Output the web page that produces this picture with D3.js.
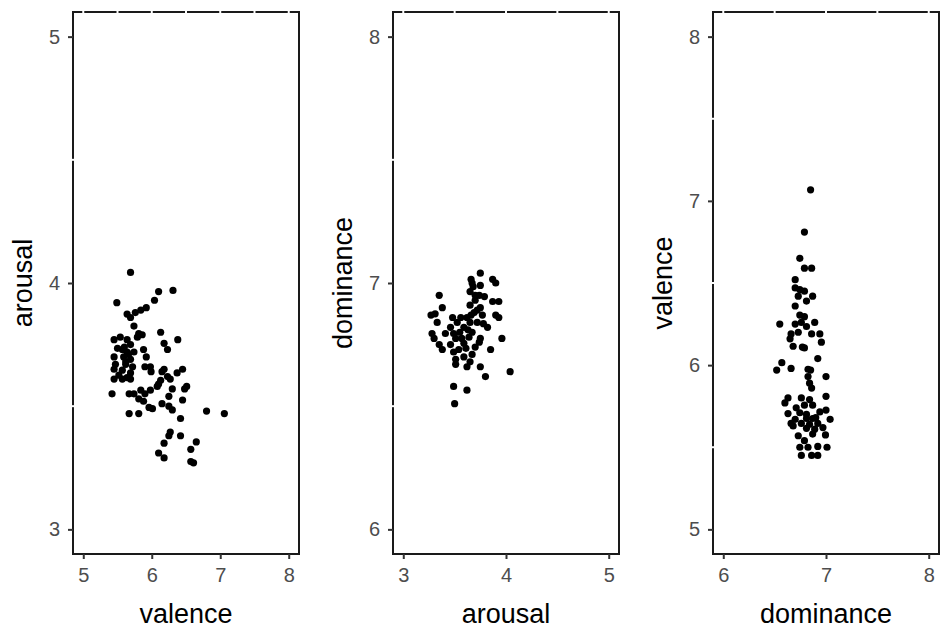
<!DOCTYPE html>
<html>
<head>
<meta charset="utf-8">
<script src="https://cdn.jsdelivr.net/npm/d3@7"></script>
<style>
  body { margin: 0; background: #fff; }
  svg { display: block; font-family: "Liberation Sans", Arial, sans-serif; }
</style>
</head>
<body>
<svg id="chart" width="940" height="629"></svg>
<script>
// panel 1: valence vs arousal
const p1Valence = [5.69,6.31,6.10,6.04,5.49,5.92,5.84,5.76,5.64,5.69,5.74,5.81,5.86,6.13,6.38,6.18,6.23,
  5.45,5.54,5.64,5.69,5.57,5.64,5.45,5.59,5.69,5.47,5.62,5.72,5.45,5.57,5.69,5.45,5.57,5.69,5.88,5.92,
  5.98,5.99,6.18,6.45,6.37,6.23,6.13,6.10,6.27,5.42,5.67,5.74,5.84,5.98,5.81,5.88,6.15,6.30,6.25,6.51,
  6.45,5.96,6.01,6.25,6.30,5.67,5.81,6.42,6.80,7.06,6.27,6.25,6.42,6.18,6.65,6.57,6.10,6.18,6.57,6.61,
  5.50,5.52,5.64,5.74,5.90,6.08,5.90,6.15,6.48,5.79,5.60,5.62,5.66];
const p1Arousal = [4.043,3.97,3.965,3.93,3.92,3.90,3.89,3.88,3.874,3.86,3.825,3.795,3.79,3.80,3.77,3.755,3.73,
  3.77,3.78,3.77,3.75,3.73,3.72,3.70,3.70,3.69,3.67,3.67,3.66,3.65,3.646,3.635,3.61,3.61,3.61,3.73,3.70,
  3.66,3.64,3.65,3.65,3.635,3.62,3.605,3.59,3.61,3.55,3.55,3.55,3.565,3.565,3.53,3.52,3.51,3.57,3.54,3.58,
  3.525,3.495,3.49,3.50,3.485,3.47,3.47,3.45,3.48,3.47,3.395,3.38,3.38,3.35,3.355,3.325,3.31,3.29,3.275,3.27,
  3.735,3.626,3.616,3.72,3.66,3.58,3.55,3.64,3.57,3.78,3.74,3.68,3.71];

// panel 2: arousal vs dominance
const p2Arousal = [3.75,3.66,3.67,3.87,3.90,3.75,3.35,3.65,3.74,3.70,3.87,3.93,3.38,3.65,3.75,3.69,3.27,
  3.31,3.48,3.56,3.62,3.77,3.90,3.93,3.33,3.525,3.65,3.78,3.46,3.59,3.82,3.28,3.49,3.67,3.30,3.51,3.64,
  3.75,3.96,3.35,3.46,3.59,3.74,3.38,3.49,3.70,3.85,3.51,3.59,3.67,3.51,3.62,3.75,3.61,3.65,3.80,4.04,
  3.49,3.62,3.50,3.72,3.72,3.55,3.41,3.68,3.79,3.57,3.54,3.70,3.66,3.63];
const p2Dominance = [7.04,7.015,7.0,7.015,7.0,6.99,6.95,6.965,6.95,6.93,6.925,6.925,6.90,6.91,6.90,6.88,6.87,
  6.875,6.86,6.86,6.86,6.87,6.87,6.86,6.84,6.84,6.84,6.835,6.82,6.82,6.82,6.795,6.795,6.80,6.775,6.775,6.78,
  6.775,6.775,6.75,6.75,6.755,6.76,6.73,6.72,6.74,6.73,6.69,6.70,6.71,6.67,6.66,6.66,6.735,6.68,6.62,6.64,
  6.58,6.565,6.51,6.89,6.84,6.80,6.795,6.985,6.945,6.775,6.73,6.95,6.87,6.81];

// panel 3: dominance vs valence
const p3Dominance = [6.85,6.79,6.745,6.79,6.86,6.70,6.70,6.745,6.79,6.73,6.87,6.81,6.70,6.745,6.79,6.76,6.89,
  6.55,6.70,6.81,6.66,6.73,6.86,6.94,6.65,6.955,6.68,6.77,6.79,6.92,6.57,6.52,6.66,6.825,6.85,7.00,6.825,
  6.84,6.86,6.63,6.60,6.76,7.00,6.71,6.79,6.87,6.63,6.745,6.94,7.00,6.70,6.81,6.87,7.04,6.76,6.84,6.92,
  6.68,6.81,6.89,6.97,6.995,6.87,6.79,6.745,6.825,6.92,7.01,6.76,6.86,6.92,6.81,6.90,6.73,6.66,6.84];
const p3Valence = [7.067,6.81,6.65,6.59,6.59,6.52,6.47,6.46,6.45,6.42,6.42,6.39,6.36,6.305,6.295,6.26,6.26,
  6.25,6.25,6.235,6.19,6.20,6.19,6.19,6.16,6.14,6.115,6.11,6.105,6.04,6.015,5.97,5.98,5.975,5.97,5.93,5.93,
  5.89,5.86,5.80,5.77,5.80,5.81,5.74,5.756,5.756,5.705,5.71,5.715,5.726,5.67,5.675,5.675,5.67,5.645,5.64,5.645,
  5.63,5.615,5.61,5.62,5.575,5.58,5.54,5.50,5.50,5.505,5.50,5.45,5.45,5.45,5.70,5.68,5.57,5.645,5.79];

const p1XTicks = [5, 6, 7, 8], p1YTicks = [3, 4, 5];
const p2XTicks = [3, 4, 5], p2YTicks = [6, 7, 8];
const p3XTicks = [6, 7, 8], p3YTicks = [5, 6, 7, 8];

const panels = [
  {x: p1Valence, y: p1Arousal, xName: "valence", yName: "arousal",
   xDom: [4.85, 8.15], yDom: [2.9, 5.1], xTicks: p1XTicks, yTicks: p1YTicks, left: 73, right: 299},
  {x: p2Arousal, y: p2Dominance, xName: "arousal", yName: "dominance",
   xDom: [2.9, 5.1], yDom: [5.9, 8.1], xTicks: p2XTicks, yTicks: p2YTicks, left: 393, right: 619},
  {x: p3Dominance, y: p3Valence, xName: "dominance", yName: "valence",
   xDom: [5.9, 8.1], yDom: [4.85, 8.15], xTicks: p3XTicks, yTicks: p3YTicks, left: 713, right: 939}
];

const TOP = 12, BOTTOM = 554;
const svg = d3.select("#chart");

panels.forEach(p => {
  const x = d3.scaleLinear().domain(p.xDom).range([p.left, p.right]);
  const y = d3.scaleLinear().domain(p.yDom).range([BOTTOM, TOP]);
  const g = svg.append("g");

  // panel border
  g.append("rect")
    .attr("x", p.left).attr("y", TOP)
    .attr("width", p.right - p.left).attr("height", BOTTOM - TOP)
    .attr("fill", "none").attr("stroke", "#1a1a1a").attr("stroke-width", 2);

  // white grid lines cut little gaps in the border
  const xGrid = d3.range(Math.ceil(p.xDom[0] * 2) / 2, p.xDom[1], 0.5);
  g.selectAll("line.vg").data(xGrid).join("line")
    .attr("x1", d => x(d)).attr("x2", d => x(d))
    .attr("y1", TOP - 2).attr("y2", TOP + 2)
    .attr("stroke", "#fff").attr("stroke-width", 2);
  const yMinor = p.yTicks.slice(1).map(d => d - 0.5);
  g.selectAll("line.hg").data(yMinor).join("line")
    .attr("x1", p.left - 2).attr("x2", p.left + 2)
    .attr("y1", d => y(d)).attr("y2", d => y(d))
    .attr("stroke", "#fff").attr("stroke-width", 2);

  // axes
  const xAxis = g.append("g").attr("transform", `translate(0,${BOTTOM})`)
    .call(d3.axisBottom(x).tickValues(p.xTicks).tickSize(5).tickPadding(9).tickFormat(d3.format("d")));
  const yAxis = g.append("g").attr("transform", `translate(${p.left},0)`)
    .call(d3.axisLeft(y).tickValues(p.yTicks).tickSize(5).tickPadding(8).tickFormat(d3.format("d")));
  [xAxis, yAxis].forEach(a => {
    a.select(".domain").remove();
    a.selectAll(".tick line").attr("stroke", "#333").attr("stroke-width", 2);
    a.selectAll(".tick text").attr("fill", "#4d4d4d")
      .style("font-size", "20px").style("font-family", "'Liberation Sans', Arial, sans-serif");
  });

  // points
  g.selectAll("circle").data(d3.range(p.x.length)).join("circle")
    .attr("cx", i => x(p.x[i])).attr("cy", i => y(p.y[i]))
    .attr("r", 3.6).attr("fill", "#000");

  // axis titles
  g.append("text")
    .attr("x", (p.left + p.right) / 2).attr("y", 623)
    .attr("text-anchor", "middle").style("font-size", "27px").attr("fill", "#000")
    .text(p.xName);
  g.append("text")
    .attr("transform", `translate(${p.left - 41},${(TOP + BOTTOM) / 2}) rotate(-90)`)
    .attr("text-anchor", "middle").style("font-size", "27px").attr("fill", "#000")
    .text(p.yName);
});
</script>
</body>
</html>
